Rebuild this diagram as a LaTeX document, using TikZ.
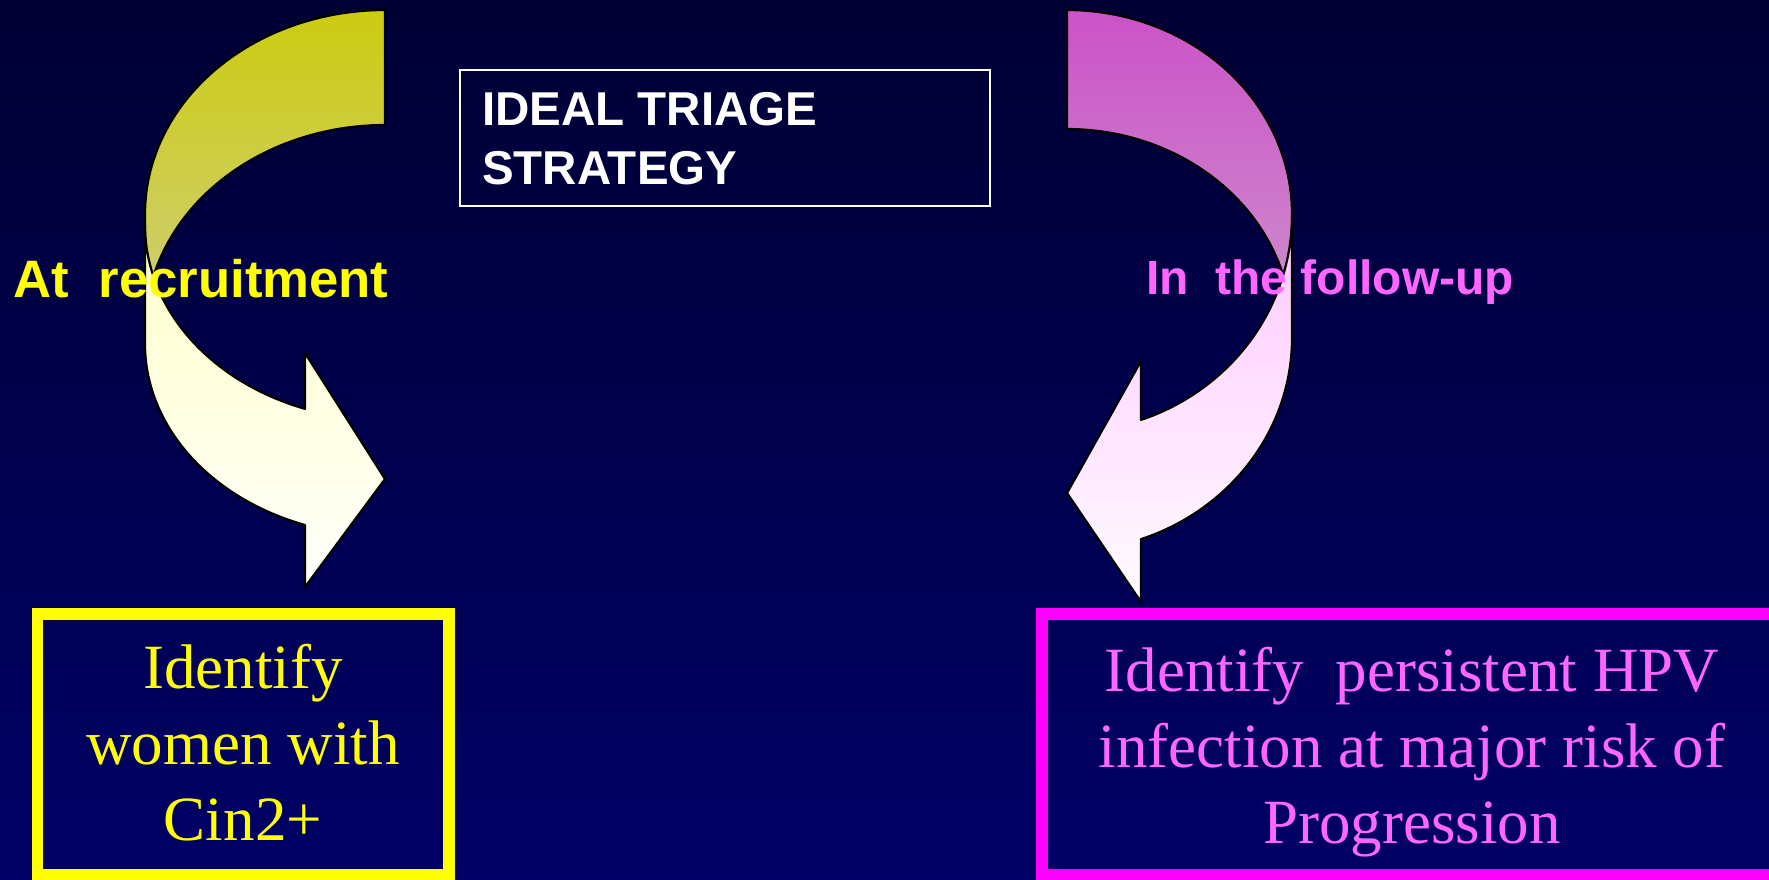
\documentclass[tikz,border=0pt]{standalone}
\usepackage{fontspec}
\setmainfont{Liberation Serif}
\newfontfamily\headfont{Liberation Sans}
\definecolor{bgtop}{RGB}{0,0,52}
\definecolor{bgbot}{RGB}{0,0,102}
\definecolor{pinktext}{RGB}{255,102,255}
\definecolor{pureyellow}{RGB}{255,255,0}
\definecolor{puremagenta}{RGB}{255,0,255}
\definecolor{olivetop}{RGB}{204,204,17}
\definecolor{olivebot}{RGB}{206,206,125}
\definecolor{creamtop}{RGB}{255,255,200}
\definecolor{creambot}{RGB}{255,255,252}
\definecolor{mauvetop}{RGB}{204,82,200}
\definecolor{mauvebot}{RGB}{205,145,205}
\definecolor{blushtop}{RGB}{255,200,255}
\definecolor{blushbot}{RGB}{255,252,255}
\begin{document}
\begin{tikzpicture}[x=1pt,y=-1pt,
  ribbon/.style={draw=black,line width=2.2pt,line join=round},
  framebox/.style={line width=11.6pt},
  boxtext/.style={font=\fontsize{63}{76}\selectfont,align=center,inner sep=0pt,anchor=north},
  sidelabel/.style={font=\headfont\bfseries\fontsize{#1}{#1}\selectfont,inner sep=0pt,anchor=base west},
  curve/.style={samples=60}]
\useasboundingbox (0,0) rectangle (1769,879);
\clip (0,0) rectangle (1769,879);
% backdrop
\shade[top color=bgtop,bottom color=bgbot] (0,0) rectangle (1769,879);

% left curved arrow: back band, then front band with head
\shadedraw[ribbon,top color=olivetop,bottom color=olivebot]
  (385,10) -- plot[curve,domain=90:180] ({385+240*cos(\x)},{214-204*sin(\x)})
  -- (145,330) -- plot[curve,domain=180:90] ({385+240*cos(\x)},{330-205*sin(\x)}) -- cycle;
\shadedraw[ribbon,top color=creamtop,bottom color=creambot]
  (145,225) -- (145,344)
  -- plot[curve,domain=180:109.47] ({385+240*cos(\x)},{344+192*sin(\x)})
  -- (305,587) -- (385,479) -- (305,353) -- (305,409)
  -- plot[curve,domain=109.47:180] ({385+240*cos(\x)},{225+195*sin(\x)}) -- cycle;

% right curved arrow: back band, then front band with head
\shadedraw[ribbon,top color=mauvetop,bottom color=mauvebot]
  (1067,10) -- plot[curve,domain=90:0] ({1067+225*cos(\x)},{214-204*sin(\x)})
  -- (1292,331) -- plot[curve,domain=0:90] ({1067+225*cos(\x)},{331-202*sin(\x)}) -- cycle;
\shadedraw[ribbon,top color=blushtop,bottom color=blushbot]
  (1292,215) -- (1292,338)
  -- plot[curve,domain=0:70.8] ({1067+225*cos(\x)},{338+213*sin(\x)})
  -- (1141,602) -- (1067,493) -- (1141,361) -- (1141,420)
  -- plot[curve,domain=70.8:0] ({1067+225*cos(\x)},{215+217*sin(\x)}) -- cycle;

% title frame
\draw[white,line width=2pt] (460,70) rectangle (990,206);
\node[font=\headfont\bfseries\fontsize{47.5}{59}\selectfont,text=white,align=left,
      inner sep=0pt,anchor=north west] (title) at (482,92) {IDEAL TRIAGE\\STRATEGY};

% outcome frames
\draw[pureyellow,framebox] (37.5,614) rectangle (449,875);
\draw[puremagenta,framebox] (1042,614) rectangle (1800,875);
\node[boxtext,text=pureyellow] (cin) at (243,644) {Identify\\women with\\Cin2+};
\node[boxtext,text=pinktext] (hpv) at (1412,647) {Identify~ persistent HPV\\infection at major risk of\\Progression};

% phase labels
\node[sidelabel=52.7,text=pureyellow] (recruit) at (13.5,297) {At~ recruitment};
\node[sidelabel=48,text=pinktext] (follow) at (1146,294) {In~ the follow-up};
\end{tikzpicture}
\end{document}
